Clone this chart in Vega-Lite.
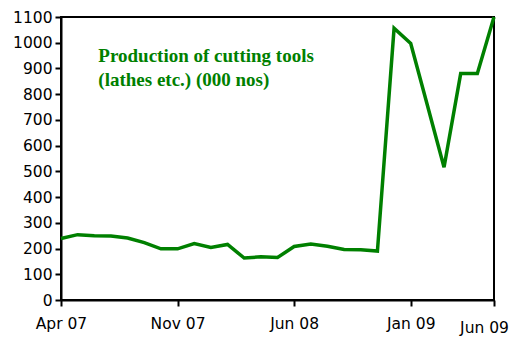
{
  "$schema": "https://vega.github.io/schema/vega-lite/v6.json",
  "width": 433,
  "height": 283,
  "autosize": {"type": "none"},
  "padding": {"left": 61, "top": 17, "right": 19, "bottom": 39},
  "background": "white",
  "config": {
    "view": {"stroke": "black", "strokeWidth": 2},
    "axis": {
      "grid": false,
      "domainColor": "black",
      "domainWidth": 2,
      "tickColor": "black",
      "tickWidth": 2,
      "tickSize": 6,
      "labelColor": "black",
      "labelFont": "DejaVu Sans",
      "labelFontSize": 15.5,
      "labelOverlap": false,
      "labelFlush": false,
      "title": null
    }
  },
  "data": {
    "values": [
      {"month": "Apr 07", "value": 239},
      {"month": "May 07", "value": 254},
      {"month": "Jun 07", "value": 250},
      {"month": "Jul 07", "value": 249},
      {"month": "Aug 07", "value": 241},
      {"month": "Sep 07", "value": 223},
      {"month": "Oct 07", "value": 199},
      {"month": "Nov 07", "value": 199},
      {"month": "Dec 07", "value": 219},
      {"month": "Jan 08", "value": 204},
      {"month": "Feb 08", "value": 216},
      {"month": "Mar 08", "value": 163},
      {"month": "Apr 08", "value": 168},
      {"month": "May 08", "value": 165},
      {"month": "Jun 08", "value": 208},
      {"month": "Jul 08", "value": 218},
      {"month": "Aug 08", "value": 209},
      {"month": "Sep 08", "value": 196},
      {"month": "Oct 08", "value": 195},
      {"month": "Nov 08", "value": 190},
      {"month": "Dec 08", "value": 1056},
      {"month": "Jan 09", "value": 997},
      {"month": "Feb 09", "value": 757},
      {"month": "Mar 09", "value": 516},
      {"month": "Apr 09", "value": 880},
      {"month": "May 09", "value": 880},
      {"month": "Jun 09", "value": 1100}
    ]
  },
  "encoding": {
    "x": {
      "field": "month",
      "type": "ordinal",
      "sort": null,
      "scale": {"type": "point", "padding": 0},
      "axis": {
        "values": ["Apr 07", "Nov 07", "Jun 08", "Jan 09", "Jun 09"],
        "labelAngle": 0,
        "labelPadding": {"condition": {"test": "datum.value == 'Jun 09'", "value": 14}, "value": 10},
        "labelOffset": {"condition": {"test": "datum.value == 'Jun 09'", "value": -10}, "value": 0}
      }
    },
    "y": {
      "field": "value",
      "type": "quantitative",
      "scale": {"domain": [0, 1100], "nice": false},
      "axis": {"values": [0,100,200,300,400,500,600,700,800,900,1000,1100], "format": "d", "labelPadding": 3}
    }
  },
  "layer": [
    {
      "mark": {"type": "line", "color": "#008000", "strokeWidth": 3.5, "clip": false}
    },
    {
      "data": {"values": [{"month": "Jun 07", "value": 950, "label": ["Production of cutting tools", "(lathes etc.) (000 nos)"]}]},
      "mark": {"type": "text", "align": "left", "baseline": "middle", "font": "Liberation Serif", "fontWeight": "bold", "fontSize": 19, "lineHeight": 24.5, "color": "#008000", "dx": 4},
      "encoding": {
        "text": {"field": "label"}
      }
    }
  ]
}
